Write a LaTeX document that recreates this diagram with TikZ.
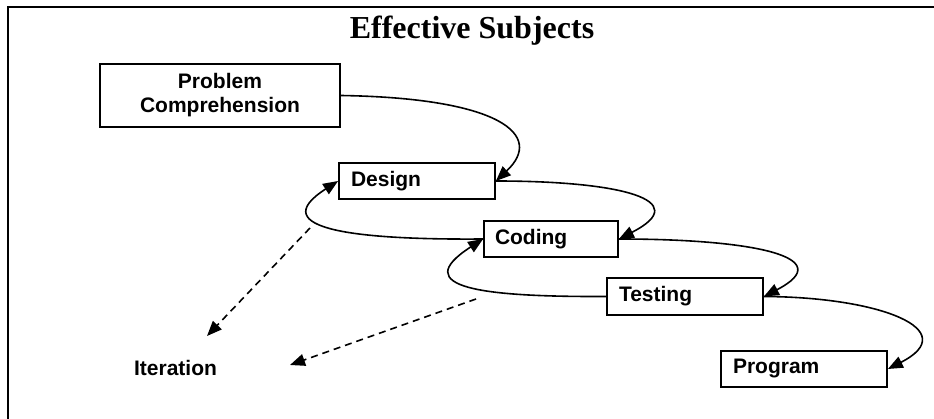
\documentclass[tikz,border=0pt]{standalone}
\usepackage{fontspec}
\setmainfont{Liberation Sans}
\newfontfamily\titlefont{Liberation Serif}
\usetikzlibrary{arrows.meta}
\begin{document}
\begin{tikzpicture}[x=1pt,y=-1pt,
  stage/.style={draw, line width=1.8pt, font=\fontsize{21}{24}\selectfont\bfseries,
                minimum height=36pt, align=left, inner ysep=0pt},
  label/.style={font=\fontsize{21}{24}\selectfont\bfseries, inner sep=0pt},
  flow/.style={line width=1.6pt, -{Triangle[length=15pt,width=12pt]}},
  iterline/.style={line width=1.6pt, dash pattern=on 7pt off 5pt,
                   -{Triangle[length=15pt,width=12pt]}}]
  \useasboundingbox (0,0) rectangle (934,419);

  % frame (top and left edges)
  \draw[line width=2.2pt] (8,419) -- (8,7) -- (934,7);

  % title
  \node[font=\titlefont\fontsize{32}{36}\selectfont\bfseries, anchor=base, inner sep=0pt]
    (title) at (472,39) {Effective Subjects};

  % stages
  \node[stage, align=center, minimum width=240pt, minimum height=63pt]
    (pc) at (220,95.5) {Problem\\Comprehension};
  \node[stage, text width=132pt, inner xsep=12pt] (design)  at (417,181)   {Design};
  \node[stage, text width=112pt, inner xsep=11pt] (coding)  at (551,239)   {Coding};
  \node[stage, text width=132pt, inner xsep=12pt, minimum height=37pt]
    (testing) at (685,296.5) {Testing};
  \node[stage, text width=142pt, inner xsep=12pt] (program) at (804,369)   {Program};

  \node[label, anchor=base] (iter) at (175.5,376) {Iteration};

  % forward flow
  \draw[flow] (pc.east) .. controls (500,98) and (545,135) .. (design.east);
  \draw[flow] (design.east) .. controls (620,181) and (695,200) .. (coding.east);
  \draw[flow] (coding.east) .. controls (753,239) and (840,257) .. (testing.east);
  \draw[flow] (testing.east) .. controls (880,297) and (964,330) .. (program.east);

  % feedback loops
  \draw[flow] (coding.west) .. controls (360,240) and (262,230) .. (design.west);
  \draw[flow] (testing.west) .. controls (483,297) and (407,288) .. (coding.west);

  % iteration pointers
  \coordinate (i1s) at (310,228);
  \coordinate (i1e) at (207,336);
  \coordinate (i2s) at (476,299);
  \coordinate (i2e) at (290,365);
  \draw[iterline] (i1s) -- (i1e);
  \draw[iterline] (i2s) -- (i2e);
\end{tikzpicture}
\end{document}
